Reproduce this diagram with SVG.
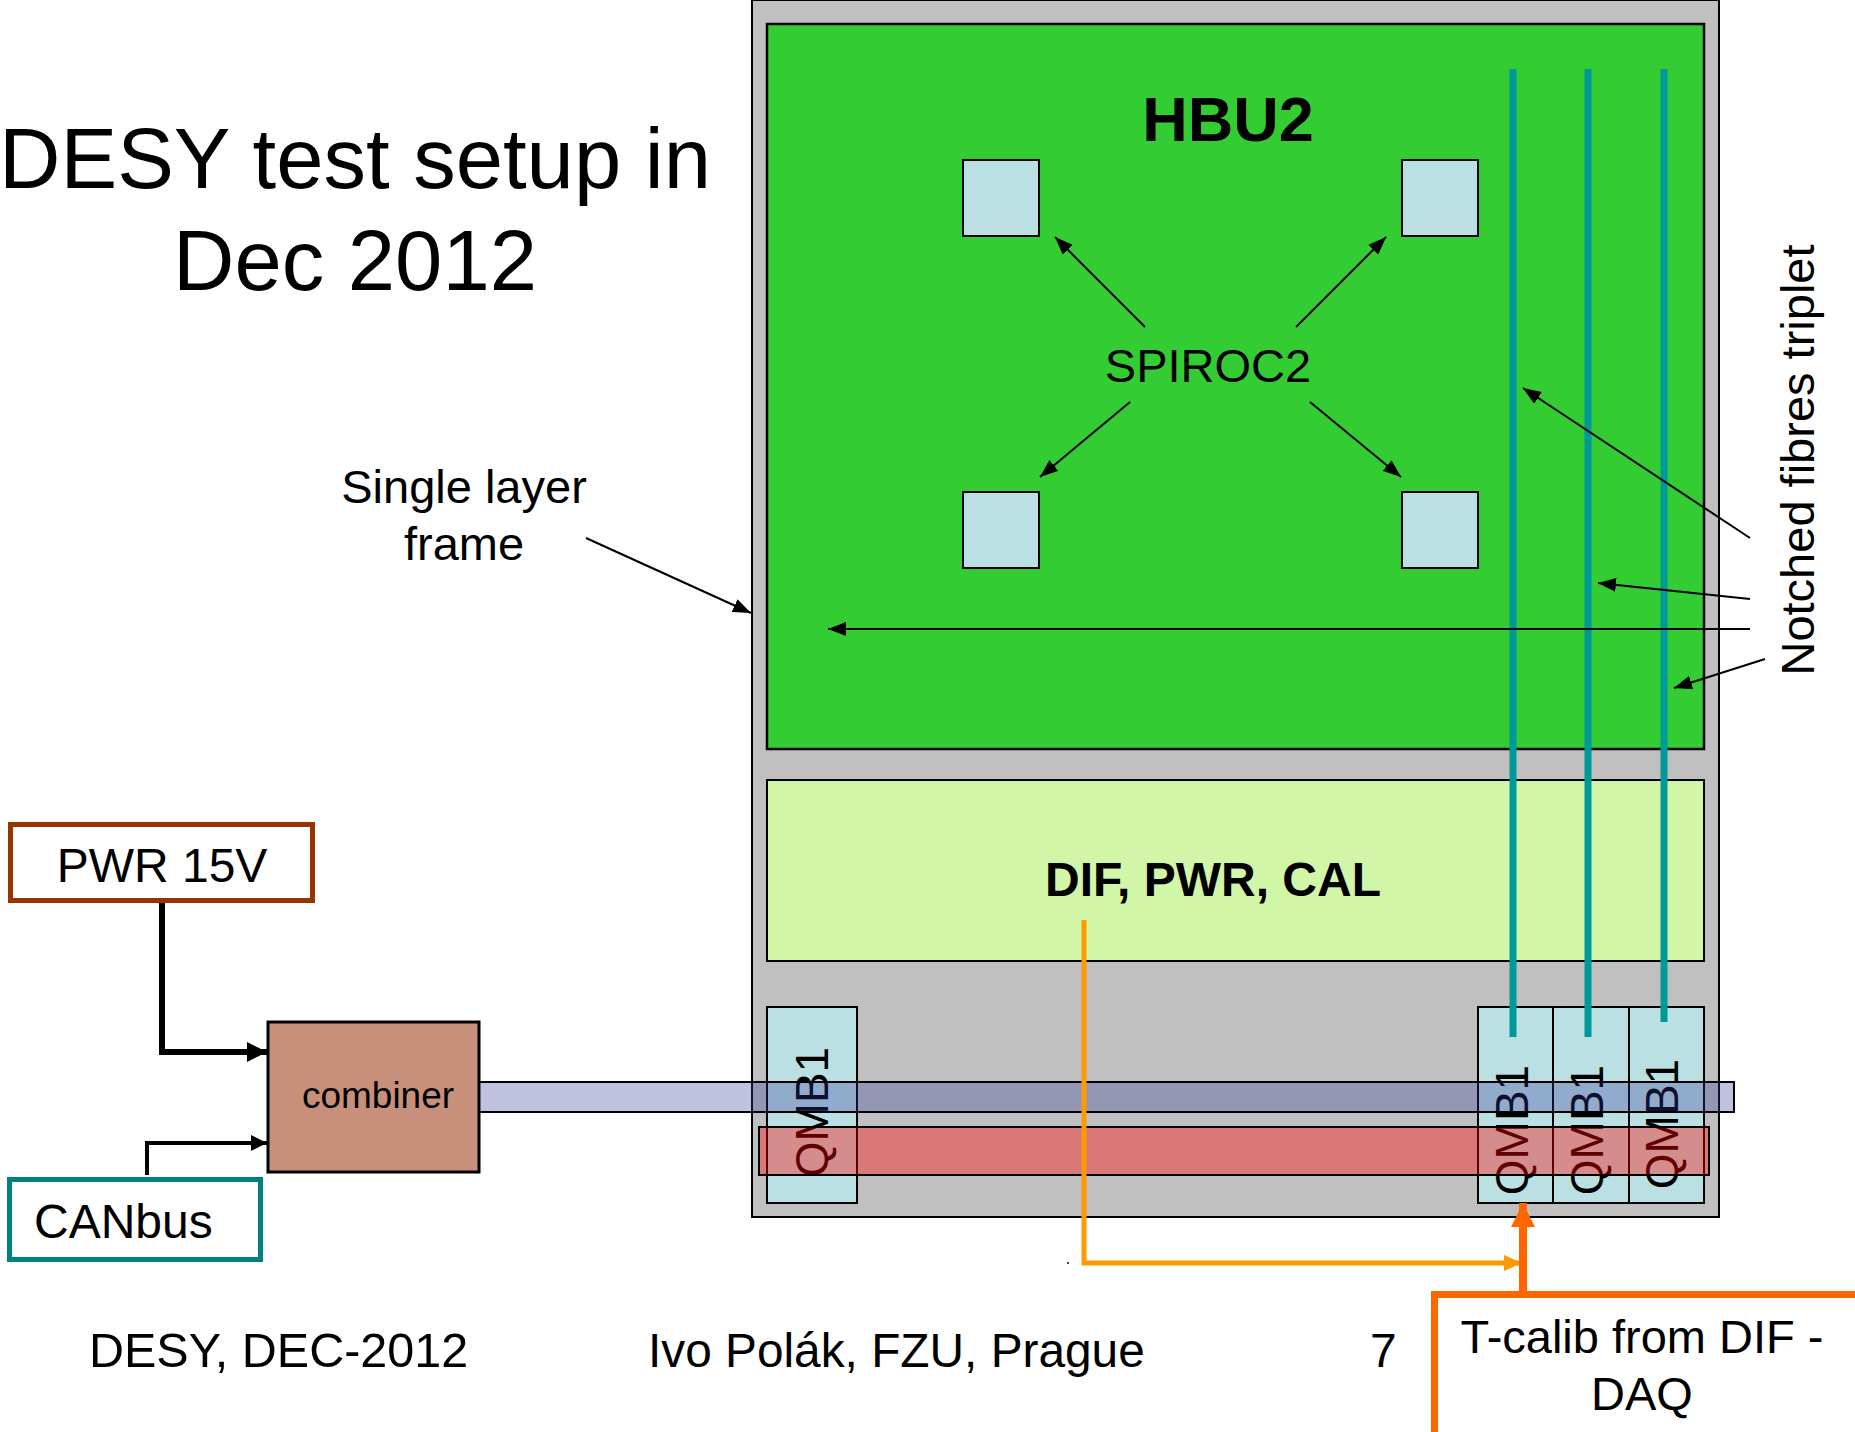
<svg xmlns="http://www.w3.org/2000/svg" width="1855" height="1432" viewBox="0 0 1855 1432">
<style>
text{font-family:"Liberation Sans",Arial,sans-serif;fill:#000}
.chip{fill:#BAE0E3;stroke:#000;stroke-width:2}
.qmb{fill:#BAE0E3;stroke:#000;stroke-width:2}
.fibre{stroke:#009999;stroke-width:7;fill:none}
.thin{stroke:#000;stroke-width:2;fill:none}
.lbl{font-size:47px}
.qt{font-size:46px;text-anchor:middle}
</style>
<defs>
<marker id="ah" markerUnits="userSpaceOnUse" markerWidth="18" markerHeight="14" refX="18" refY="7" orient="auto"><path d="M0,0 L18,7 L0,14 z" fill="#000"/></marker>
<marker id="ahPwr" markerUnits="userSpaceOnUse" markerWidth="20" markerHeight="20" refX="20" refY="10" orient="auto"><path d="M0,0 L20,10 L0,20 z" fill="#000"/></marker>
<marker id="ahCan" markerUnits="userSpaceOnUse" markerWidth="16" markerHeight="16" refX="16" refY="8" orient="auto"><path d="M0,0 L16,8 L0,16 z" fill="#000"/></marker>
<marker id="ahDif" markerUnits="userSpaceOnUse" markerWidth="18" markerHeight="16" refX="18" refY="8" orient="auto"><path d="M0,0 L18,8 L0,16 z" fill="#FF9900"/></marker>
<marker id="ahCal" markerUnits="userSpaceOnUse" markerWidth="24" markerHeight="24" refX="24" refY="12" orient="auto"><path d="M0,0 L24,12 L0,24 z" fill="#FF6600"/></marker>
</defs>

<g id="title">
<text x="355" y="188" font-size="85" text-anchor="middle">DESY test setup in</text>
<text x="355" y="290" font-size="85" text-anchor="middle">Dec 2012</text>
</g>

<g id="frame">
<rect x="752" y="0" width="967" height="1217" fill="#C0C0C0" stroke="#000" stroke-width="2"/>
</g>

<g id="hbu2">
<rect x="767" y="24" width="937" height="725" fill="#33CC33" stroke="#000" stroke-width="2.5"/>
<text x="1228" y="141" font-size="63" font-weight="bold" text-anchor="middle">HBU2</text>
</g>

<g id="spiroc-chips">
<rect id="chip-tl" class="chip" x="963" y="160" width="76" height="76"/>
<rect id="chip-tr" class="chip" x="1402" y="160" width="76" height="76"/>
<rect id="chip-bl" class="chip" x="963" y="492" width="76" height="76"/>
<rect id="chip-br" class="chip" x="1402" y="492" width="76" height="76"/>
</g>

<g id="spiroc-label">
<text x="1208" y="382" font-size="47" text-anchor="middle">SPIROC2</text>
</g>

<g id="dif">
<rect x="767" y="780" width="937" height="181" fill="#D2F6A8" stroke="#000" stroke-width="2"/>
<text x="1213" y="896" font-size="48" font-weight="bold" text-anchor="middle">DIF, PWR, CAL</text>
</g>

<g id="qmb-left">
<rect class="qmb" x="767" y="1007" width="90" height="196"/>
<text class="qt" transform="translate(828,1112) rotate(-90)">QMB1</text>
</g>
<g id="qmb-r1">
<rect class="qmb" x="1478" y="1007" width="75" height="196"/>
<text class="qt" transform="translate(1528,1130) rotate(-90)">QMB1</text>
</g>
<g id="qmb-r2">
<rect class="qmb" x="1553" y="1007" width="76" height="196"/>
<text class="qt" transform="translate(1603,1130) rotate(-90)">QMB1</text>
</g>
<g id="qmb-r3">
<rect class="qmb" x="1629" y="1007" width="75" height="196"/>
<text class="qt" transform="translate(1678,1124) rotate(-90)">QMB1</text>
</g>

<g id="fibres">
<line class="fibre" x1="1513" y1="69" x2="1513" y2="1037"/>
<line class="fibre" x1="1588" y1="69" x2="1588" y2="1037"/>
<line class="fibre" x1="1664" y1="69" x2="1664" y2="1022"/>
</g>

<g id="pwr15v">
<rect x="10.5" y="824.5" width="302" height="76" fill="#fff" stroke="#993300" stroke-width="5"/>
<text x="162" y="882" font-size="48" text-anchor="middle">PWR 15V</text>
</g>

<g id="canbus">
<rect x="9.5" y="1179.5" width="251" height="80" fill="#fff" stroke="#008080" stroke-width="5"/>
<text x="34" y="1238" font-size="48">CANbus</text>
</g>

<g id="combiner">
<rect x="268" y="1022" width="211" height="150" fill="#C8907A" stroke="#000" stroke-width="3"/>
<text x="378" y="1108" font-size="37" text-anchor="middle">combiner</text>
</g>

<g id="bars">
<rect x="479" y="1082" width="1255" height="30" fill="#333399" fill-opacity="0.3" stroke="#000" stroke-width="2"/>
<rect x="759" y="1127" width="950" height="48" fill="#FF0000" fill-opacity="0.375" stroke="#000" stroke-width="2"/>
</g>

<g id="tcalib">
<rect x="1434.5" y="1294.5" width="500" height="200" fill="#fff" stroke="#FF6600" stroke-width="7"/>
<text x="1642" y="1353" font-size="47" text-anchor="middle">T-calib from DIF -</text>
<text x="1642" y="1410" font-size="47" text-anchor="middle">DAQ</text>
</g>

<g id="connectors">
<line class="thin" x1="1145" y1="327" x2="1055" y2="237" marker-end="url(#ah)"/>
<line class="thin" x1="1296" y1="327" x2="1386" y2="237" marker-end="url(#ah)"/>
<line class="thin" x1="1130" y1="402" x2="1040" y2="477" marker-end="url(#ah)"/>
<line class="thin" x1="1310" y1="402" x2="1401" y2="477" marker-end="url(#ah)"/>
<line class="thin" x1="1750" y1="538" x2="1523" y2="388" marker-end="url(#ah)"/>
<line class="thin" x1="1750" y1="599" x2="1598" y2="583" marker-end="url(#ah)"/>
<line class="thin" x1="1750" y1="629" x2="828" y2="629" marker-end="url(#ah)"/>
<line class="thin" x1="1765" y1="659" x2="1674" y2="688" marker-end="url(#ah)"/>
<line class="thin" x1="586" y1="538" x2="751" y2="613" marker-end="url(#ah)"/>
<path d="M162,903 V1052 H267" fill="none" stroke="#000" stroke-width="6" marker-end="url(#ahPwr)"/>
<path d="M147,1175 V1143 H267" fill="none" stroke="#000" stroke-width="4" marker-end="url(#ahCan)"/>
<path d="M1084,920 V1263 H1522" fill="none" stroke="#FF9900" stroke-width="5" marker-end="url(#ahDif)"/>
<line x1="1523" y1="1292" x2="1523" y2="1203" stroke="#FF6600" stroke-width="8" marker-end="url(#ahCal)"/>
<rect x="1067" y="1262" width="2" height="2" fill="#444"/>
</g>

<g id="labels">
<text x="464" y="503" class="lbl" font-size="46" text-anchor="middle">Single layer</text>
<text x="464" y="560" class="lbl" font-size="46" text-anchor="middle">frame</text>
<text class="lbl" transform="translate(1814,460) rotate(-90)" text-anchor="middle">Notched fibres triplet</text>
<text x="89" y="1367" font-size="48.5">DESY, DEC-2012</text>
<text x="648" y="1367" font-size="47.8">Ivo Polák, FZU, Prague</text>
<text x="1370" y="1367" font-size="48">7</text>
</g>
</svg>
